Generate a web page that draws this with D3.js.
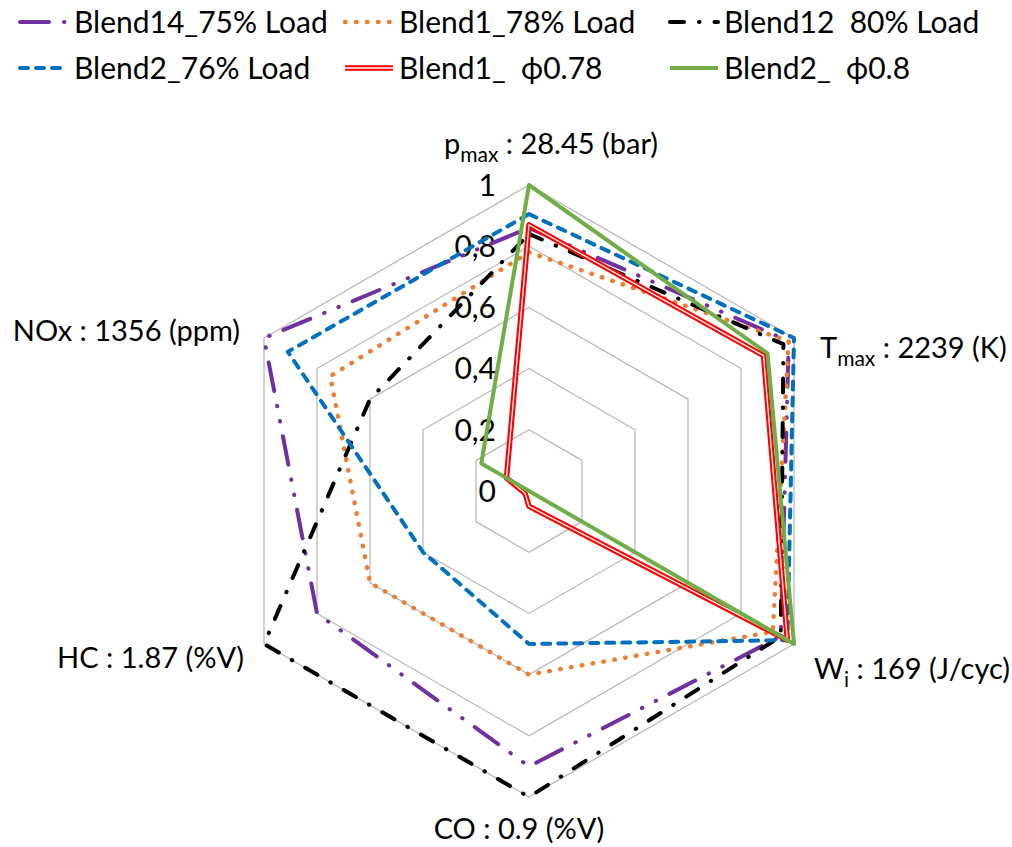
<!DOCTYPE html>
<html>
<head>
<meta charset="utf-8">
<script src="https://cdn.jsdelivr.net/npm/d3@7"></script>
<style>
  html, body { margin: 0; padding: 0; background: #fff; }
  svg { display: block; }
  text { font-family: Lato, "Open Sans", "DejaVu Sans", sans-serif; fill: #000; white-space: pre; }
</style>
</head>
<body>
<svg id="chart" width="1012" height="847"></svg>
<script>
// Radar axes (clockwise from the top) and their reference values
const axes = ["pmax", "Tmax", "Wi", "CO", "HC", "NOx"];
const axisMain = ["p", "T", "W", "CO : 0.9 (%V)", "HC : 1.87 (%V)", "NOx : 1356 (ppm)"];
const axisSub = ["max", "max", "i", "", "", ""];
const axisTail = [" : 28.45 (bar)", " : 2239 (K)", " : 169 (J/cyc)", "", "", ""];

// Normalised values per series, in axis order
const blend14_75 = [0.86, 0.98, 0.95, 0.90, 0.80, 1.00];
const blend1_78 = [0.78, 0.98, 0.92, 0.60, 0.60, 0.75];
const blend12_80 = [0.84, 0.96, 0.95, 1.00, 1.00, 0.60];
const blend2_76 = [0.905, 1.00, 0.975, 0.50, 0.40, 0.91];
const blend1_phi = [0.87, 0.885, 0.975, 0.05, 0.015, 0.085];
const blend2_phi = [1.00, 0.90, 1.00, 0.00, 0.00, 0.18];

const seriesNames = ["Blend14_75% Load", "Blend1_78% Load", "Blend12  80% Load",
                     "Blend2_76% Load", "Blend1_  \u03D50.78", "Blend2_  \u03D50.8"];
const seriesValues = [blend14_75, blend1_78, blend12_80, blend2_76, blend1_phi, blend2_phi];

// Gridline levels and tick labels
const gridLevels = [0.2, 0.4, 0.6, 0.8, 1.0];
const tickValues = [0, 0.2, 0.4, 0.6, 0.8, 1];
const tickLabels = ["0", "0,2", "0,4", "0,6", "0,8", "1"];

// Line styles for each series
const styles = [
  { color: "#7030A0", width: 4, dash: "29,15,0.5,15,0.5,15", cap: "round" },
  { color: "#ED7D31", width: 4.5, dash: "0.5,10.5", cap: "round" },
  { color: "#000000", width: 4, dash: "14,15,0.5,15", cap: "round" },
  { color: "#0070C0", width: 4, dash: "8,8", cap: "round" },
  { color: "#FF0000", width: 5.5, dash: null, cap: "butt", double: true },
  { color: "#70AD47", width: 4, dash: null, cap: "butt" }
];

const svg = d3.select("#chart");
const cx = 529, cy = 491, R = 306;

const r = d3.scaleLinear().domain([0, 1]).range([0, R]);
const angle = d3.scaleLinear().domain([0, axes.length]).range([0, 2 * Math.PI]);

const g = svg.append("g").attr("transform", `translate(${cx},${cy})`);

// hexagonal gridlines
const ring = d3.lineRadial()
  .angle((d, i) => angle(i))
  .radius(d => r(d))
  .curve(d3.curveLinearClosed);

g.selectAll("path.grid")
  .data(gridLevels)
  .join("path")
  .attr("class", "grid")
  .attr("d", lv => ring(axes.map(() => lv)))
  .attr("fill", "none")
  .attr("stroke", "#B4B4B4")
  .attr("stroke-width", 1.2);

// value axis tick labels along the top spoke
g.selectAll("text.tick")
  .data(tickValues)
  .join("text")
  .attr("class", "tick")
  .attr("x", -33)
  .attr("y", d => -r(d))
  .attr("dy", "0.36em")
  .attr("text-anchor", "end")
  .attr("font-size", 30)
  .text((d, i) => tickLabels[i]);

// series polygons
const radar = d3.lineRadial()
  .angle((d, i) => angle(i))
  .radius(d => r(d))
  .curve(d3.curveLinearClosed);

seriesValues.forEach((vals, k) => {
  const s = styles[k];
  const p = g.append("path")
    .attr("d", radar(vals))
    .attr("fill", "none")
    .attr("stroke", s.color)
    .attr("stroke-width", s.width)
    .attr("stroke-linecap", s.cap)
    .attr("stroke-linejoin", "round");
  if (s.dash) p.attr("stroke-dasharray", s.dash);
  if (s.double) {
    g.append("path")
      .attr("d", radar(vals))
      .attr("fill", "none")
      .attr("stroke", "#fff")
      .attr("stroke-width", 1.3)
      .attr("stroke-linejoin", "round");
  }
});

// axis titles placed relative to the outer vertex of each spoke
const labelPlace = [
  { dx: 22, dy: -31, anchor: "middle" },
  { dx: 26, dy: 20, anchor: "start" },
  { dx: 20, dy: 35, anchor: "start" },
  { dx: -10, dy: 42, anchor: "middle" },
  { dx: -20, dy: 24, anchor: "end" },
  { dx: -24, dy: 3, anchor: "end" }
];

axes.forEach((a, i) => {
  const ang = angle(i);
  const vx = r(1) * Math.sin(ang), vy = -r(1) * Math.cos(ang);
  const lp = labelPlace[i];
  const t = g.append("text")
    .attr("x", vx + lp.dx)
    .attr("y", vy + lp.dy)
    .attr("text-anchor", lp.anchor)
    .attr("font-size", 29);
  t.append("tspan").text(axisMain[i]);
  if (axisSub[i]) {
    t.append("tspan").attr("font-size", 21).attr("dy", 8).text(axisSub[i]);
    t.append("tspan").attr("dy", -8).text(axisTail[i]);
  }
});

// legend: two rows of three entries
const legendCols = [20, 345, 670];
const legendRows = [22, 68];
const sampleLen = 48;

seriesNames.forEach((name, k) => {
  const x0 = legendCols[k % 3];
  const y0 = legendRows[Math.floor(k / 3)];
  const s = styles[k];
  const ln = svg.append("line")
    .attr("x1", x0).attr("x2", x0 + sampleLen)
    .attr("y1", y0).attr("y2", y0)
    .attr("stroke", s.color)
    .attr("stroke-width", s.width)
    .attr("stroke-linecap", s.cap);
  if (s.dash) ln.attr("stroke-dasharray", s.dash);
  if (s.double) {
    svg.append("line")
      .attr("x1", x0).attr("x2", x0 + sampleLen)
      .attr("y1", y0).attr("y2", y0)
      .attr("stroke", "#fff").attr("stroke-width", 1.3);
  }
  svg.append("text")
    .attr("x", x0 + 54)
    .attr("y", y0)
    .attr("dy", "0.35em")
    .attr("font-size", 30)
    .text(name);
});
</script>
</body>
</html>
